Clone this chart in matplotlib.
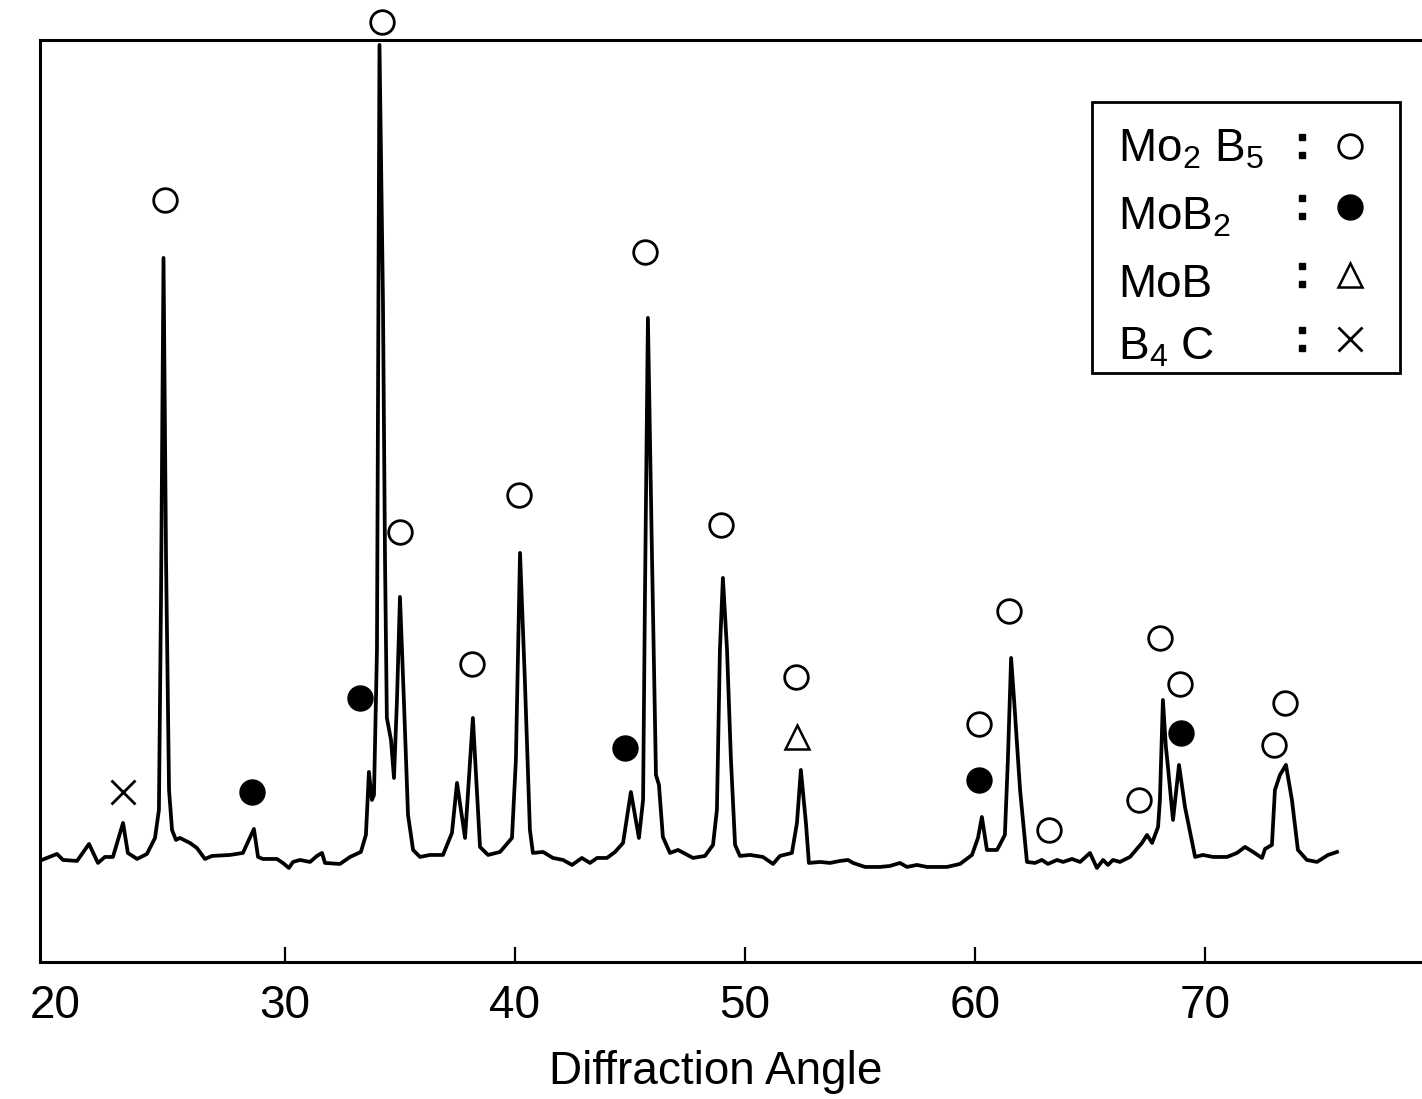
import matplotlib
matplotlib.use("Agg")
import matplotlib.pyplot as plt
import numpy as np

plt.rcParams.update({
    "font.family": ["Liberation Sans", "DejaVu Sans"],
    "mathtext.default": "regular",
    "font.size": 33,
    "axes.linewidth": 2.2,
    "xtick.direction": "in",
    "xtick.major.size": 11,
    "xtick.major.width": 1.6,
    "xtick.major.pad": 16,
    "xtick.labelsize": 33,
})

# XRD trace: diffraction angle (deg) and intensity (arb.)
angle = np.array([
    19.43, 20.09, 20.35, 20.96, 21.48, 21.87, 22.17, 22.52, 22.96, 23.17,
    23.57, 24.00, 24.35, 24.52, 24.61, 24.72, 24.83, 24.96, 25.09, 25.26,
    25.43, 25.87, 26.17, 26.52, 26.83, 27.61, 28.17, 28.39, 28.65, 28.83,
    29.04, 29.65, 29.91, 30.17, 30.35, 30.65, 31.09, 31.39, 31.61, 31.74,
    32.39, 32.83, 33.30, 33.52, 33.65, 33.78, 33.87, 34.00, 34.11, 34.26,
    34.35, 34.43, 34.61, 34.74, 34.87, 35.00, 35.17, 35.35, 35.57, 35.87,
    36.30, 36.87, 37.26, 37.48, 37.83, 38.17, 38.48, 38.83, 39.35, 39.87,
    40.04, 40.22, 40.43, 40.65, 40.78, 41.22, 41.65, 42.09, 42.48, 42.91,
    43.26, 43.57, 44.00, 44.35, 44.70, 45.04, 45.39, 45.57, 45.65, 45.78,
    45.96, 46.13, 46.26, 46.43, 46.74, 47.09, 47.74, 48.26, 48.61, 48.78,
    48.91, 49.04, 49.22, 49.39, 49.57, 49.78, 50.22, 50.78, 51.22, 51.52,
    52.04, 52.26, 52.43, 52.65, 52.78, 53.26, 53.70, 54.13, 54.48, 54.70,
    55.22, 55.87, 56.30, 56.74, 57.04, 57.48, 57.91, 58.78, 59.35, 59.87,
    60.13, 60.30, 60.52, 60.96, 61.30, 61.43, 61.57, 61.70, 61.96, 62.26,
    62.61, 62.91, 63.17, 63.57, 63.83, 64.22, 64.57, 65.00, 65.30, 65.57,
    65.78, 66.00, 66.30, 66.74, 67.26, 67.48, 67.70, 67.96, 68.04, 68.17,
    68.30, 68.39, 68.61, 68.87, 69.13, 69.57, 69.91, 70.35, 70.96, 71.39,
    71.74, 72.09, 72.48, 72.61, 72.91, 73.04, 73.26, 73.52, 73.78, 74.04,
    74.43, 74.87, 75.35, 75.74,
])
intensity = np.array([
    102, 108, 102, 101, 118, 99, 105, 105, 139, 109,
    103, 108, 124, 152, 362, 704, 402, 172, 132, 122,
    124, 119, 114, 103, 106, 107, 109, 120, 133, 105,
    103, 103, 99, 94, 100, 102, 100, 106, 109, 99,
    98, 105, 110, 127, 190, 162, 167, 312, 917, 662,
    402, 244, 222, 184, 262, 365, 262, 147, 112, 105,
    107, 107, 129, 179, 124, 244, 115, 107, 110, 124,
    202, 409, 282, 132, 109, 110, 104, 102, 97, 104,
    99, 104, 104, 110, 119, 170, 124, 162, 362, 644,
    402, 187, 177, 125, 109, 112, 104, 106, 117, 152,
    312, 384, 312, 202, 117, 106, 107, 105, 98, 106,
    109, 139, 192, 139, 99, 100, 99, 101, 102, 99,
    95, 95, 96, 99, 95, 97, 95, 95, 98, 107,
    124, 145, 112, 112, 127, 202, 304, 262, 172, 100,
    99, 102, 98, 102, 100, 103, 100, 109, 94, 102,
    97, 102, 100, 105, 119, 127, 119, 135, 162, 262,
    215, 195, 142, 197, 155, 105, 107, 105, 105, 109,
    115, 110, 104, 113, 117, 172, 187, 197, 162, 112,
    102, 100, 107, 110,
])

# phase identification marks (angle, height)
mo2b5_angle = [24.78, 34.22, 35.00, 38.13, 40.17, 45.65, 48.96, 52.22,
               60.17, 61.48, 63.22, 67.13, 68.04, 68.91, 73.00, 73.48]
mo2b5_height = [762, 940, 430, 298, 467, 710, 437, 285,
                238, 351, 132, 162, 324, 278, 217, 259]
mob2_angle = [28.57, 33.26, 44.78, 60.17, 68.96]
mob2_height = [170, 264, 214, 182, 229]
mob_angle = [52.26]
mob_height = [225]
b4c_angle = [22.96]
b4c_height = [170]

tick_values = [20, 30, 40, 50, 60, 70]

fig = plt.figure(figsize=(14.22, 10.99), dpi=100)
ax = fig.add_axes([0.0281, 0.1247, 0.9719, 0.8390])

ax.plot(angle, intensity, color="black", lw=2.7, solid_joinstyle="round")

ms = 17
ax.plot(mo2b5_angle, mo2b5_height, "o", ms=ms, mfc="white", mec="black",
        mew=2.0, clip_on=False, zorder=5)
ax.plot(mob2_angle, mob2_height, "o", ms=ms + 1, mfc="black", mec="black",
        clip_on=False, zorder=5)
ax.plot(mob_angle, mob_height, "^", ms=ms, mfc="white", mec="black",
        mew=1.8, zorder=5)
ax.plot(b4c_angle, b4c_height, "x", ms=ms, mec="black", mew=2.0, zorder=5)

ax.set_xlim(19.348, 79.435)
ax.set_ylim(0, 922)
ax.set_xticks(tick_values)
ax.xaxis.get_major_ticks()[0].tick1line.set_visible(False)
ax.set_yticks([])
ax.spines["right"].set_visible(False)

ax.set_xlabel("Diffraction Angle")
ax.xaxis.set_label_coords(0.489, -0.095)
ax.xaxis.label.set_va("top")

# legend drawn by hand: name, colon, symbol
leg_names = ["Mo$_2$ B$_5$", "MoB$_2$", "MoB", "B$_4$ C"]
leg_base = [0.868, 0.794, 0.721, 0.653]
leg_mid = [0.885, 0.819, 0.745, 0.676]
leg_styles = [
    dict(marker="o", mfc="white", mec="black", mew=2.0, ms=ms),
    dict(marker="o", mfc="black", mec="black", ms=ms + 1),
    dict(marker="^", mfc="white", mec="black", mew=1.8, ms=ms),
    dict(marker="x", mec="black", mew=2.0, ms=ms),
]
ax.add_patch(plt.Rectangle((0.761, 0.639), 0.223, 0.294, transform=ax.transAxes,
                           fill=False, lw=2.0, ec="black", clip_on=False))
for name, yb, ym, st in zip(leg_names, leg_base, leg_mid, leg_styles):
    ax.text(0.780, yb, name, transform=ax.transAxes, ha="left", va="baseline",
            fontsize=33)
    ax.plot([0.913, 0.913], [ym + 0.0098, ym - 0.0098], transform=ax.transAxes,
            ls="none", marker="s", ms=4.5, mfc="black", mec="black",
            clip_on=False)
    ax.plot([0.948], [ym], transform=ax.transAxes, ls="none", clip_on=False, **st)

fig.savefig("out.png", dpi=100)
